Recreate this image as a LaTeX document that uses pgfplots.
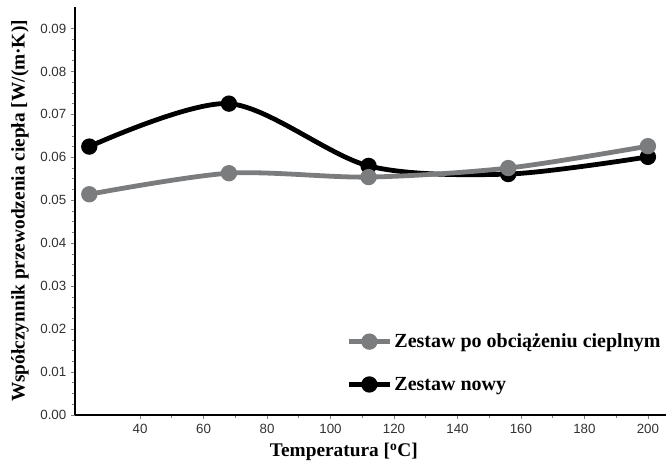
\documentclass[border=0pt]{standalone}
\usepackage{fontspec}
\setmainfont{Liberation Serif}
\newfontfamily\arial{Liberation Sans}
\usepackage{pgfplots}
\pgfplotsset{compat=1.18}
\definecolor{sergray}{RGB}{122,124,126}
\definecolor{ticktext}{RGB}{50,50,50}
\begin{document}
\begin{tikzpicture}
\path (-56.25pt,-39.75pt) rectangle (444.75pt,311.25pt);
\begin{axis}[
  at={(0,0)}, anchor=south west,
  scale only axis,
  width=443.25pt, height=306pt,
  xmin=19.5, xmax=205.7,
  ymin=0, ymax=0.095,
  axis lines=left,
  axis line style={line width=1.5pt, -},
  xtick={40,60,...,200},
  minor x tick num=1,
  ytick={0,0.01,...,0.09},
  minor y tick num=3,
  tick align=outside,
  major tick length=3pt,
  minor tick length=2pt,
  tick style={gray, line width=0.5pt},
  /pgf/number format/assume math mode=true,
  ticklabel style={font=\arial\fontsize{10}{11}\selectfont, text=ticktext},
  yticklabel style={/pgf/number format/fixed, /pgf/number format/precision=2, /pgf/number format/fixed zerofill},
  scaled y ticks=false,
  xlabel={\textbf{Temperatura [\textsuperscript{o}C]}},
  ylabel={\textbf{Współczynnik przewodzenia ciepła [W/(m·K)]}},
  label style={font=\fontsize{14.5}{17}\selectfont, inner sep=0pt},
  xlabel style={at={(axis description cs:0.455,0)}, anchor=center, yshift=-28pt},
  ylabel style={at={(axis description cs:-0.093,0.5)}, anchor=center},
  legend style={at={(0.453,0.213)}, anchor=north west, draw=none, fill=none, overlay,
    font=\bfseries\fontsize{15}{18}\selectfont, row sep=16.5pt,
    /tikz/every even column/.append style={column sep=4pt}},
  legend cell align=left,
  reverse legend,
  legend image code/.code={\draw[mark repeat=2,mark phase=2] plot coordinates {(0pt,0pt)(15pt,0pt)(30pt,0pt)};},
  clip=false,
]
\addplot[black, line width=3.6pt, smooth, mark=*, mark size=4.3pt, mark options={solid}]
  coordinates {(24,0.0625) (68,0.0725) (112,0.0580) (156,0.0561) (200,0.0601)};
\addlegendentry{Zestaw nowy}
\addplot[sergray, line width=3.6pt, smooth, mark=*, mark size=4.3pt, mark options={solid}]
  coordinates {(24,0.0514) (68,0.0563) (112,0.0554) (156,0.0575) (200,0.0626)};
\addlegendentry{Zestaw po obciążeniu cieplnym}
\end{axis}
\end{tikzpicture}
\end{document}
